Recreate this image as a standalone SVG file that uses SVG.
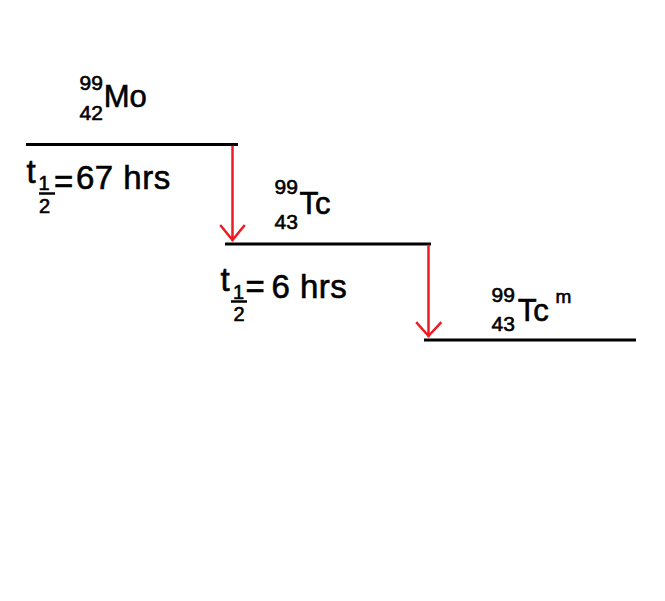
<svg xmlns="http://www.w3.org/2000/svg" width="665" height="601" viewBox="0 0 665 601">
<style>
text{font-family:"Liberation Sans",Arial,sans-serif;fill:#000;stroke:#000;stroke-width:0.6}
.big{font-size:31px}
.hl{font-size:33px;letter-spacing:0.5px}
.sm{font-size:21px}
.fr{font-size:20px;text-anchor:middle}
.lvl{stroke:#000;stroke-width:3;fill:none}
.bar{stroke:#000;stroke-width:2.5;fill:none}
.arr{stroke:#ed1c24;stroke-width:2.5;fill:none;stroke-linecap:square;stroke-linejoin:miter}
</style>
<rect width="665" height="601" fill="#fff"/>
<g id="mo99">
<line class="lvl" x1="26" y1="144.5" x2="238" y2="144.5"/>
<text class="sm" x="79.5" y="90.3">99</text>
<text class="sm" x="79.5" y="120.3">42</text>
<text class="big" x="103.7" y="107">Mo</text>
<text class="hl" x="26.5" y="182.5">t</text>
<text class="fr" x="44" y="190">1</text>
<line class="bar" x1="39" y1="193.5" x2="55" y2="193.5"/>
<text class="fr" x="44.5" y="212.5">2</text>
<text class="hl" x="54" y="193">=</text>
<text class="hl" x="76" y="188.5">67 hrs</text>
</g>
<g id="tc99">
<line class="lvl" x1="225" y1="244" x2="431" y2="244"/>
<text class="sm" x="274.5" y="193.5">99</text>
<text class="sm" x="274.5" y="228.5">43</text>
<text class="big" x="299.5" y="214">Tc</text>
<text class="hl" x="220.5" y="290.5">t</text>
<text class="fr" x="238.5" y="299">1</text>
<line class="bar" x1="231" y1="301.5" x2="247" y2="301.5"/>
<text class="fr" x="239" y="320.5">2</text>
<text class="hl" x="245.5" y="298">=</text>
<text class="hl" x="271.5" y="298">6 hrs</text>
</g>
<g id="tc99m">
<line class="lvl" x1="424" y1="340" x2="636" y2="340"/>
<text class="sm" x="491.5" y="302">99</text>
<text class="sm" x="491.5" y="330.5">43</text>
<text class="big" x="517.7" y="320.5">Tc</text>
<text class="sm" x="555.5" y="303" style="font-size:19px">m</text>
</g>
<g id="connectors">
<path class="arr" d="M232.5 147V240M221 226L232.5 240L244 226"/>
<path class="arr" d="M428.5 246V336M417 323L428.5 336L440.5 323"/>
</g>
</svg>
